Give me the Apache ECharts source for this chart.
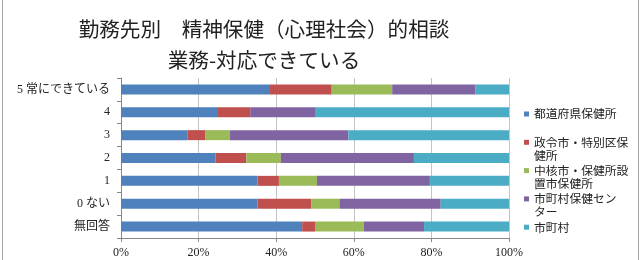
<!DOCTYPE html>
<html>
<head>
<meta charset="utf-8">
<script src="https://cdn.jsdelivr.net/npm/echarts@6/dist/echarts.min.js"></script>
<style>
  html, body { margin: 0; padding: 0; background: #fff; }
  #chart { width: 643px; height: 260px; }
</style>
</head>
<body>
<div id="chart"></div>
<script>
// 回答カテゴリ（上から順）
const categories = ['5 常にできている', '4', '3', '2', '1', '0 ない', '無回答']

// 勤務先別の割合（%）
const prefHC = [38.4, 25.0, 17.2, 24.4, 35.2, 35.2, 46.7]
const cityHC = [15.9, 8.3, 4.6, 7.9, 5.5, 13.8, 3.3]
const coreHC = [15.6, 0, 6.3, 8.9, 9.8, 7.3, 12.6]
const muniCenter = [21.5, 16.7, 30.5, 34.3, 29.1, 26.1, 15.5]
const muni = [8.6, 50.0, 41.4, 24.5, 20.4, 17.6, 21.9]

const seriesNames = ['都道府県保健所', '政令市・特別区保健所', '中核市・保健所設置市保健所', '市町村保健センター', '市町村']
// 凡例の折り返し
const legendLabels = {
  '都道府県保健所': '都道府県保健所\n ',
  '政令市・特別区保健所': '政令市・特別区保\n健所',
  '中核市・保健所設置市保健所': '中核市・保健所設\n置市保健所',
  '市町村保健センター': '市町村保健セン\nター',
  '市町村': '市町村\n '
}
const colors = ['#4F81BD', '#C0504D', '#9BBB59', '#8064A2', '#4BACC6']
const seriesData = [prefHC, cityHC, coreHC, muniCenter, muni]

const chart = echarts.init(document.getElementById('chart'))

const option = {
  animation: false,
  title: {
    text: '勤務先別　精神保健（心理社会）的相談\n業務-対応できている',
    left: 259,
    top: 9,
    textAlign: 'center',
    textStyle: {
      fontFamily: 'Noto Sans CJK JP',
      fontSize: 20.6,
      fontWeight: 'normal',
      lineHeight: 31,
      color: '#222'
    }
  },
  legend: {
    orient: 'vertical',
    left: 519,
    top: 102.5,
    itemWidth: 5,
    itemHeight: 26,
    itemGap: 2.3,
    // 四角を1行目に合わせる
    icon: 'path://M0,0M0,4h5v5h-5zM5,26',
    formatter: name => legendLabels[name],
    textStyle: {
      fontFamily: 'Noto Sans CJK JP',
      fontSize: 11.8,
      lineHeight: 13,
      color: '#222'
    },
    data: seriesNames
  },
  grid: {
    left: 121,
    right: 134,
    top: 78,
    bottom: 22
  },
  xAxis: {
    type: 'value',
    min: 0,
    max: 100,
    interval: 20,
    axisLine: { show: true, lineStyle: { color: '#888' } },
    axisTick: { show: true, length: 4, lineStyle: { color: '#888' } },
    splitLine: { show: true, lineStyle: { color: '#c4c4c4' } },
    axisLabel: {
      formatter: '{value}%',
      margin: 9,
      fontFamily: "'Liberation Serif', 'Noto Sans CJK JP'",
      fontSize: 12,
      color: '#222'
    }
  },
  yAxis: {
    type: 'category',
    inverse: true,
    data: categories,
    axisLine: { show: true, lineStyle: { color: '#888' } },
    axisTick: { show: true, length: 4, lineStyle: { color: '#888' } },
    axisLabel: {
      margin: 11,
      fontFamily: "'Liberation Serif', 'Noto Sans CJK JP'",
      fontSize: 12,
      color: '#222'
    }
  },
  series: seriesNames.map((name, i) => ({
    name: name,
    type: 'bar',
    stack: 'total',
    barWidth: 10,
    data: seriesData[i],
    itemStyle: { color: colors[i] }
  })),
  // 外枠
  graphic: [{
    type: 'rect',
    shape: { x: 2.5, y: -5, width: 636, height: 275 },
    style: { fill: 'none', stroke: '#a6a6a6', lineWidth: 1 },
    silent: true
  }]
}

chart.setOption(option)
</script>
</body>
</html>
